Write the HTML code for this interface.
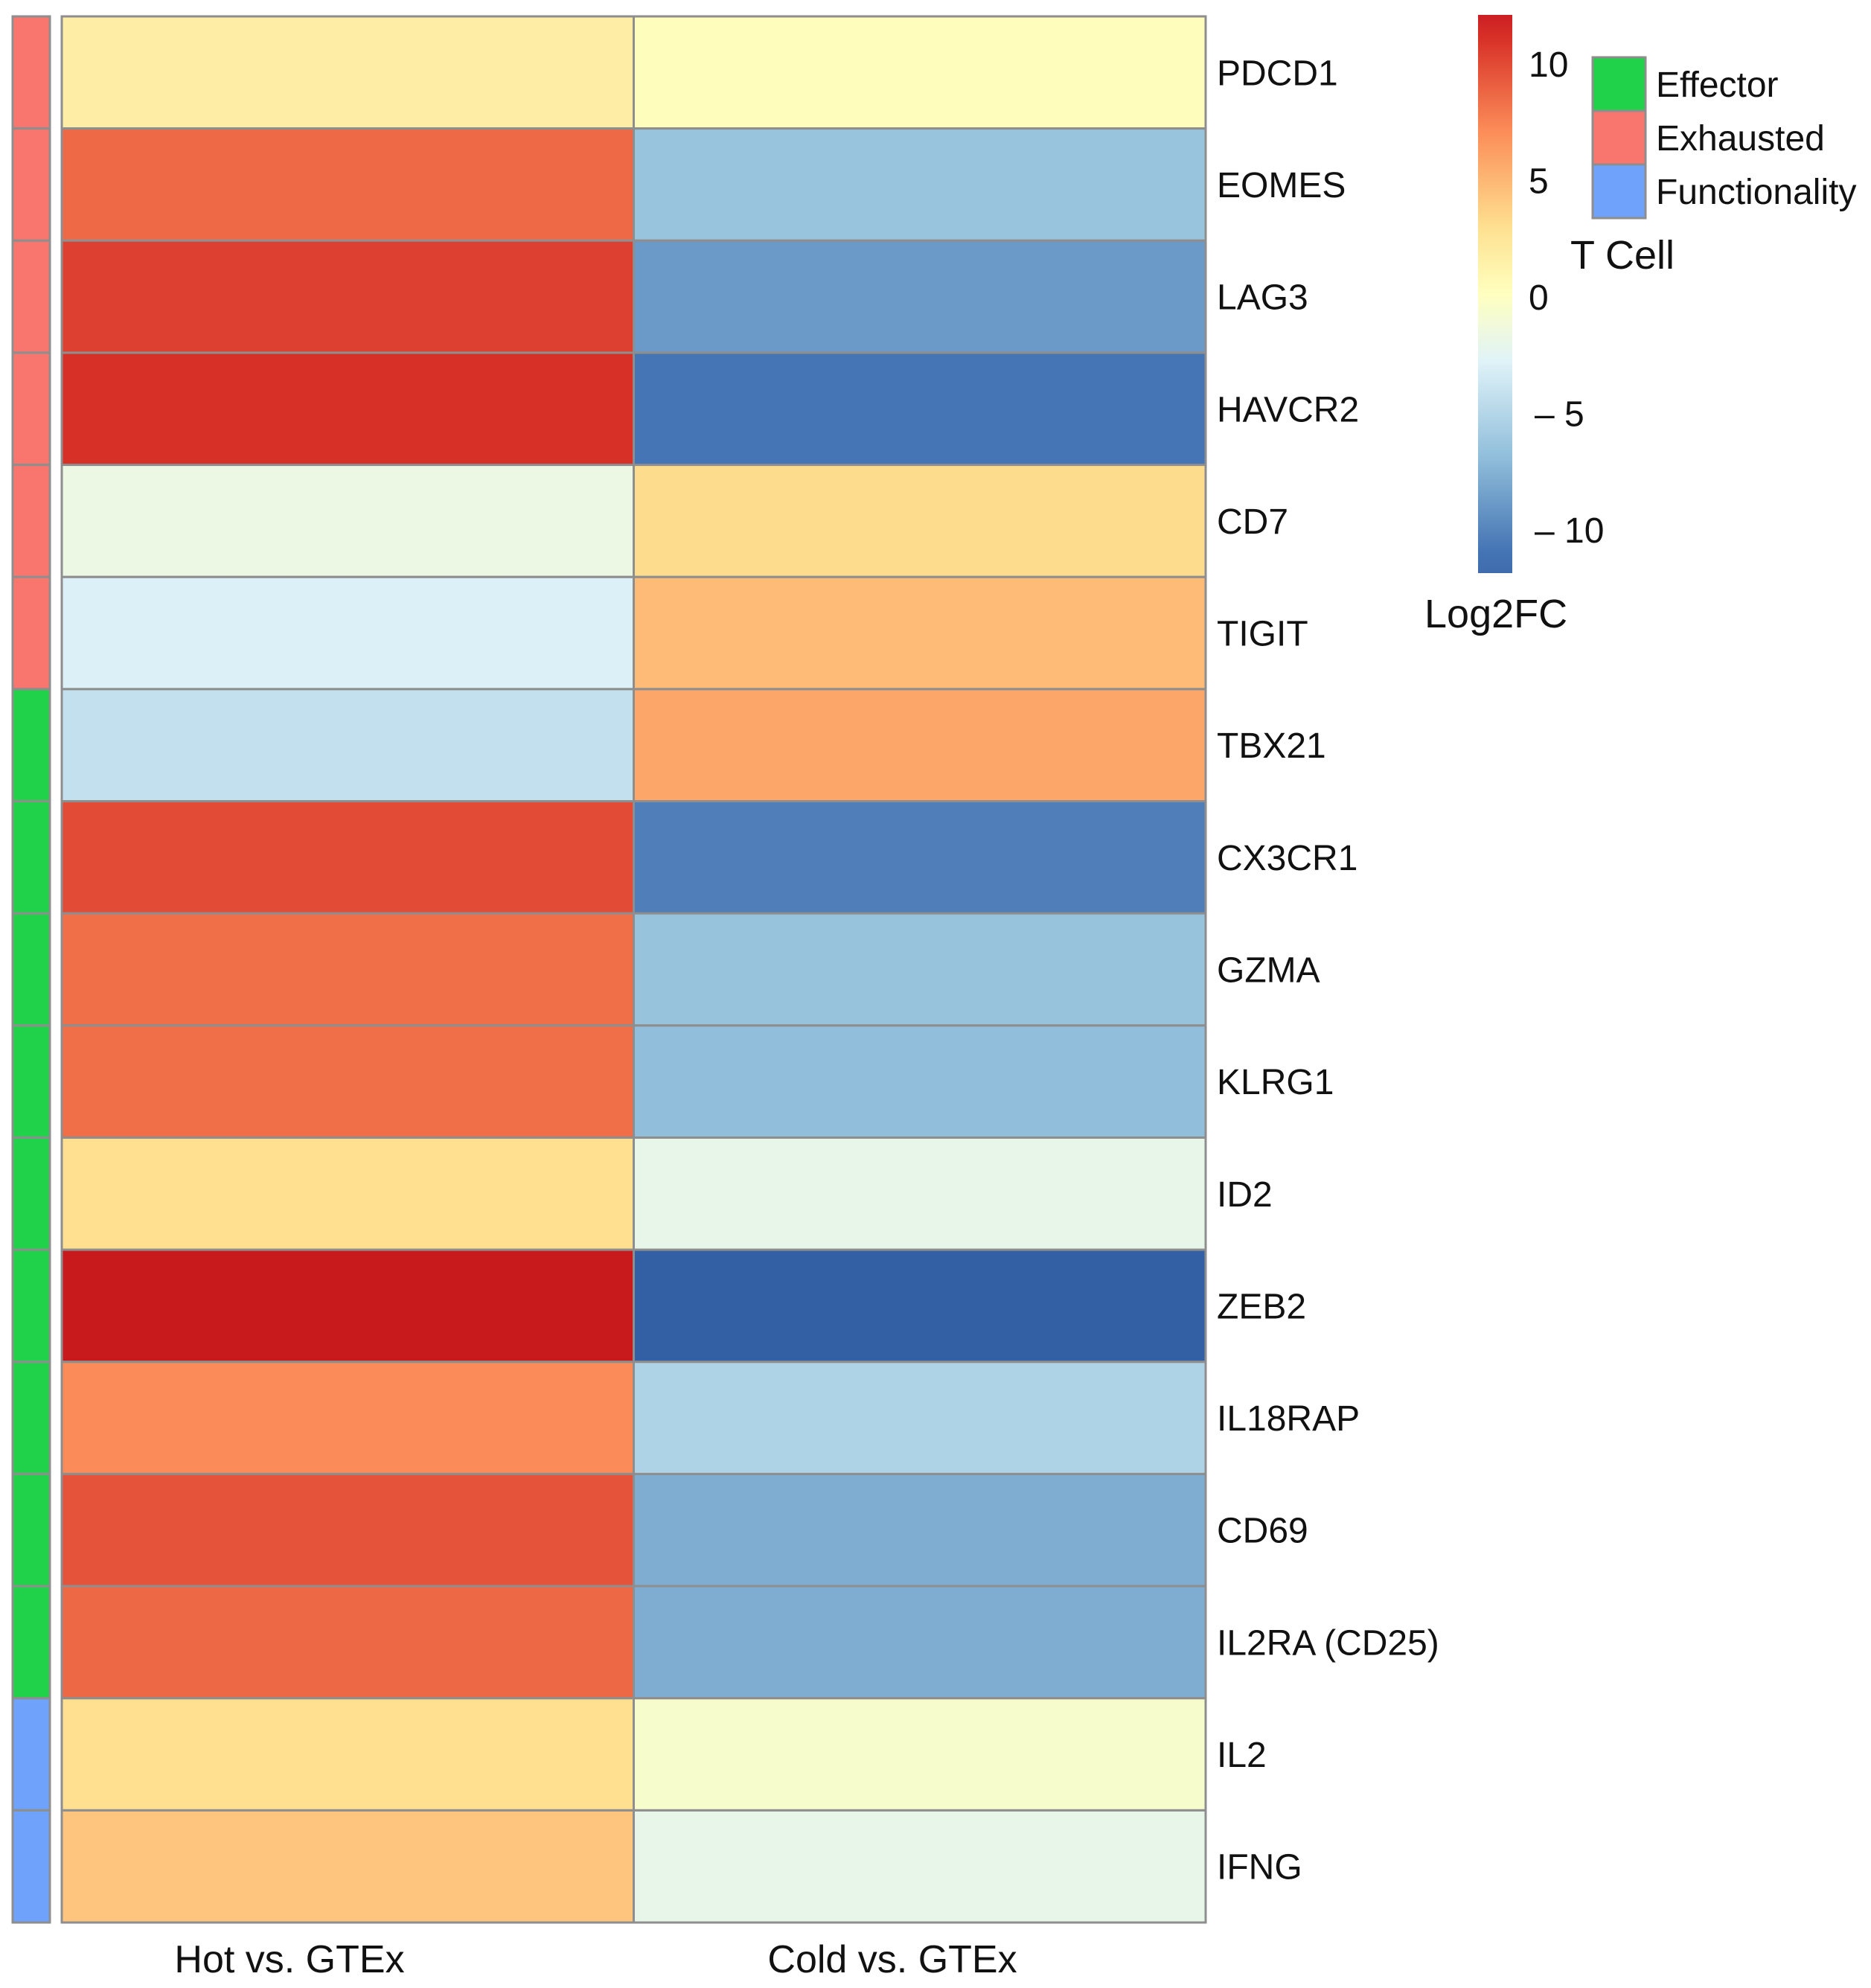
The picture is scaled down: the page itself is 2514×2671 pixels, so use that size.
<!DOCTYPE html>
<html><head><meta charset="utf-8"><style>
html,body{margin:0;padding:0;background:#fff;}
svg{display:block;font-family:"Liberation Sans",Arial,sans-serif;}
</style></head><body>
<svg id="chart" width="2514" height="2671" viewBox="0 0 2514 2671" xmlns="http://www.w3.org/2000/svg">
<defs>
<linearGradient id="cbar" x1="0" y1="1" x2="0" y2="0">
<stop offset="0" stop-color="#3e6cad"/>
<stop offset="0.04" stop-color="#4575b4"/>
<stop offset="0.21" stop-color="#91bfdb"/>
<stop offset="0.38" stop-color="#e0f3f8"/>
<stop offset="0.5" stop-color="#ffffbf"/>
<stop offset="0.62" stop-color="#fee090"/>
<stop offset="0.79" stop-color="#fc8d59"/>
<stop offset="0.96" stop-color="#d73027"/>
<stop offset="1" stop-color="#cc1f24"/>
</linearGradient>
</defs>
<g id="cells"></g>
<g id="annot"></g>
<g id="rowlabels"></g>
<text x="389" y="2650" font-size="52" text-anchor="middle" fill="#111">Hot vs. GTEx</text>
<text x="1199" y="2650" font-size="52" text-anchor="middle" fill="#111">Cold vs. GTEx</text>
<rect x="1986" y="20" width="46" height="750" fill="url(#cbar)"/>
<g id="cticks"></g>
<text x="1914" y="843" font-size="54" fill="#111">Log2FC</text>
<g id="legend"></g>
<text x="2110" y="361" font-size="54" fill="#111">T Cell</text>
</svg>
<script>
const genes=["PDCD1","EOMES","LAG3","HAVCR2","CD7","TIGIT","TBX21","CX3CR1","GZMA","KLRG1","ID2","ZEB2","IL18RAP","CD69","IL2RA (CD25)","IL2","IFNG"];
const groups=["Exhausted","Exhausted","Exhausted","Exhausted","Exhausted","Exhausted","Effector","Effector","Effector","Effector","Effector","Effector","Effector","Effector","Effector","Functionality","Functionality"];
const hotValues=[2.2,9.5,11.3,12.0,-2.5,-4.2,-5.5,10.8,9.3,9.3,4.0,13.0,8.1,10.5,9.6,4.0,5.3];
const coldValues=[0.3,-7.6,-10.0,-12.0,4.2,5.8,6.8,-11.5,-7.7,-8.0,-3.0,-13.0,-6.5,-9.0,-9.0,-1.0,-3.0];
const columns=["Hot vs. GTEx","Cold vs. GTEx"];
const tickValues=[10,5,0,-5,-10];
const legendGroups=["Effector","Exhausted","Functionality"];

const groupColor={Effector:"#1fd24a",Exhausted:"#f8766d",Functionality:"#6ea2fb"};
const stops=[[-13,[51,96,165]],[-12,[69,117,180]],[-8,[145,191,219]],[-4,[224,243,248]],[0,[255,255,191]],[4,[254,224,144]],[8,[252,141,89]],[12,[215,48,39]],[13,[200,25,28]]];
function colorOf(v){
  if(v<=stops[0][0])return "rgb("+stops[0][1]+")";
  for(let i=1;i<stops.length;i++){
    if(v<=stops[i][0]){const a=stops[i-1],b=stops[i];const t=(v-a[0])/(b[0]-a[0]);
      return "rgb("+a[1].map((c,k)=>Math.round(c+(b[1][k]-c)*t)).join(",")+")";}
  }
  return "rgb("+stops[stops.length-1][1]+")";
}
const NS="http://www.w3.org/2000/svg";
const top0=22,bottom0=2583,left0=83,right0=1620;
const rowH=(bottom0-top0)/genes.length;
const colW=(right0-left0)/columns.length;
const yRow=i=>top0+i*rowH;
const xCol=j=>left0+j*colW;
function mk(tag,attrs,parent){const e=document.createElementNS(NS,tag);for(const k in attrs)e.setAttribute(k,attrs[k]);parent.appendChild(e);return e;}
const cells=document.getElementById("cells"),annot=document.getElementById("annot"),rl=document.getElementById("rowlabels");
genes.forEach((g,i)=>{
  [hotValues[i],coldValues[i]].forEach((v,j)=>{
    const r=mk("rect",{x:xCol(j),y:yRow(i),width:colW,height:rowH,fill:colorOf(v),stroke:"#8e8e8e","stroke-width":3},cells);
    
    
  });
  const a=mk("rect",{x:17,y:yRow(i),width:50,height:rowH,fill:groupColor[groups[i]],stroke:"#8e8e8e","stroke-width":3},annot);
  
  
  const t=mk("text",{x:1635,y:yRow(i)+rowH/2+17,"font-size":48,fill:"#111"},rl);
  t.textContent=g;
  
  
});
const ct=document.getElementById("cticks");
const cy=v=>399-v*31.3;
tickValues.forEach(v=>{
  const t=mk("text",{x:v<0?2062:2054,y:cy(v)+17,"font-size":48,fill:"#111"},ct);
  t.textContent=v<0?"\u2013 "+Math.abs(v):String(v);
  
  
});
const lg=document.getElementById("legend");
legendGroups.forEach((g,i)=>{
  const r=mk("rect",{x:2140,y:77+i*72,width:71,height:72,fill:groupColor[g],stroke:"#8e8e8e","stroke-width":3},lg);
  
  
  const t=mk("text",{x:2225,y:130+i*72,"font-size":48,fill:"#111"},lg);
  t.textContent=g;
  
  
});
</script>
</body></html>
